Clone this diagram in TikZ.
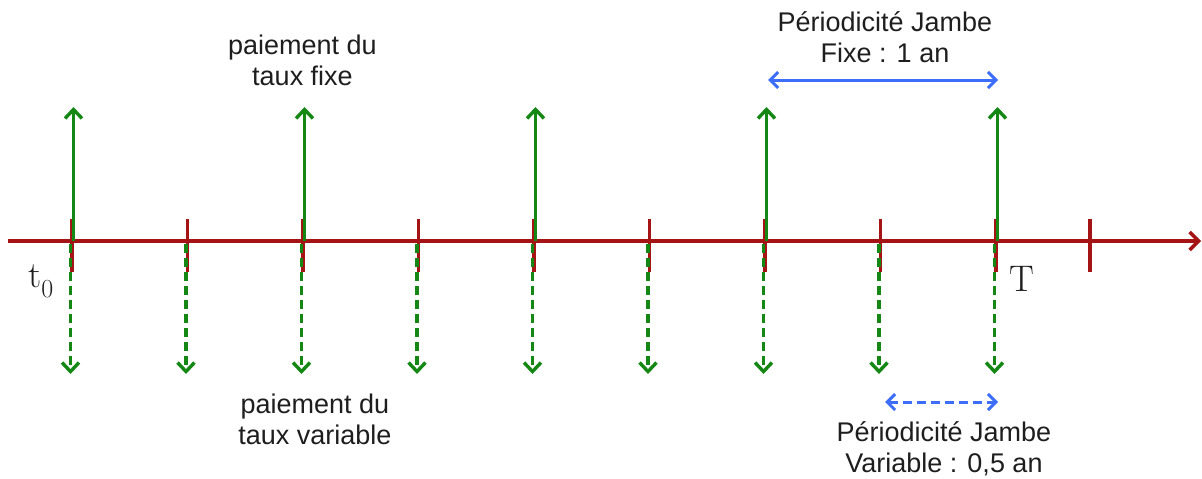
\documentclass[tikz,border=0pt]{standalone}
\usepackage{fontspec}
\newfontfamily\sans{Liberation Sans}
\usetikzlibrary{arrows.meta}
\definecolor{axisred}{RGB}{165,20,20}
\definecolor{paygreen}{RGB}{20,135,20}
\definecolor{perblue}{RGB}{60,110,250}
\definecolor{txt}{RGB}{30,30,30}
\tikzset{
  timeline/.style={axisred, line width=3.4pt, -{Straight Barb[length=9pt,width=18pt]}},
  tickmark/.style={axisred, line width=3.4pt},
  fixedpay/.style={paygreen, line width=3.4pt, -{Straight Barb[length=9pt,width=17pt]}},
  floatpay/.style={fixedpay, dash pattern=on 9pt off 5pt},
  span/.style={perblue, line width=3pt, {Straight Barb[length=8pt,width=16pt]}-{Straight Barb[length=8pt,width=16pt]}},
  txtlabel/.style={font=\sans\fontsize{27}{31}\selectfont, text=txt, align=center, inner sep=0pt},
  datelabel/.style={font=\fontsize{37}{40}\selectfont, text=txt, inner sep=0pt},
}
\begin{document}
\begin{tikzpicture}[x=1pt,y=-1pt]
\useasboundingbox (0,0) rectangle (1202,479);

% time axis
\coordinate (start) at (8,241);
\coordinate (end) at (1201,241);
\draw[timeline] (start) -- (end);

% ticks, half-year spacing
\foreach \i/\x in {0/72,1/187.5,2/303,3/418.5,4/534,5/649.5,6/765,7/880.5,8/996,9/1090}{
  \coordinate (k\i) at (\x,241);
  \coordinate (kt\i) at (\x,219);
  \coordinate (kb\i) at (\x,272);
  \draw[tickmark] (kt\i) -- (kb\i);
}

% fixed leg: yearly payments
\foreach \i/\x in {0/72,2/303,4/534,6/765,8/996}{
  \coordinate (fs\i) at (\x+1.5,241);
  \coordinate (fe\i) at (\x+1.5,107);
  \draw[fixedpay] (fs\i) -- (fe\i);
}

% floating leg: half-yearly payments
\foreach \i/\x in {0/72,1/187.5,2/303,3/418.5,4/534,5/649.5,6/765,7/880.5,8/996}{
  \coordinate (vs\i) at (\x-1.5,244);
  \coordinate (ve\i) at (\x-1.5,374);
  \draw[floatpay] (vs\i) -- (ve\i);
}

% periods
\coordinate (pf1) at (768,80);
\coordinate (pf2) at (998,80);
\draw[span] (pf1) -- (pf2);
\coordinate (pv1) at (885,402);
\coordinate (pv2) at (998,402);
\draw[span, dash pattern=on 9pt off 5pt] (pv1) -- (pv2);

% labels
\node[txtlabel] (fixlbl) at (302.5,60) {paiement du\\taux fixe};
\node[txtlabel] (varlbl) at (315,419) {paiement du\\taux variable};
\node[txtlabel] (fixper) at (885,37) {Périodicité Jambe\\Fixe : 1 an};
\node[txtlabel] (varper) at (944,449) {Périodicité Jambe\\Variable : 0,5 an};

\node[datelabel, anchor=base west] (t0) at (28,287) {t\raisebox{-0.28em}{\fontsize{26}{26}\selectfont 0}};
\node[datelabel, anchor=base] (tT) at (1022,291) {T};
\end{tikzpicture}
\end{document}
